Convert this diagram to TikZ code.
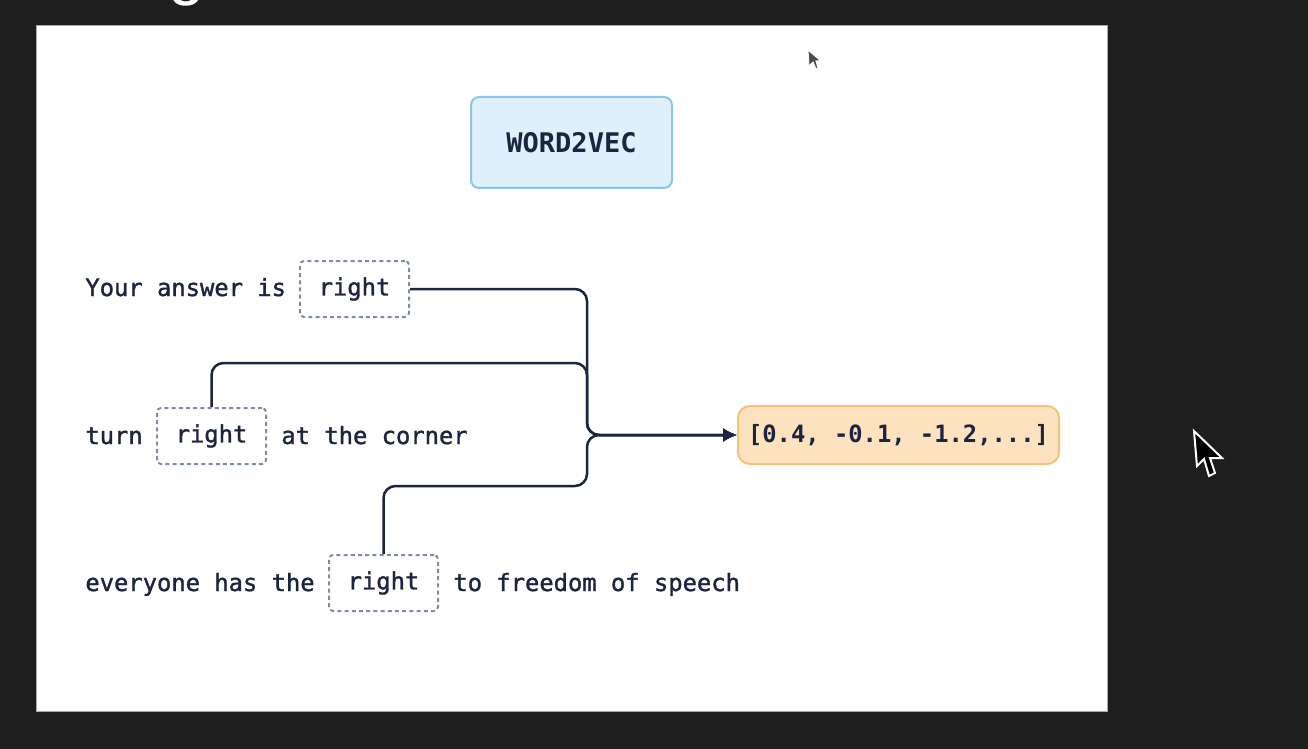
\documentclass[tikz,border=0pt]{standalone}
\usepackage{fontspec}
\setmonofont{DejaVu Sans Mono}
\setsansfont{Liberation Sans}
\newfontfamily\medmono{DejaVu Sans Mono}[FakeBold=1.4]
\usetikzlibrary{arrows.meta}

\definecolor{screenbg}{HTML}{1E1E1E}
\definecolor{ink}{HTML}{1C2540}
\definecolor{dashgray}{HTML}{7D8BA6}
\definecolor{modelfill}{HTML}{DDF0FC}
\definecolor{modeledge}{HTML}{8DC6EA}
\definecolor{vecfill}{HTML}{FDE2C0}
\definecolor{vecedge}{HTML}{F5C27C}

\newcommand{\monofont}{\medmono\fontsize{11.9}{14}\selectfont}

\begin{document}
\begin{tikzpicture}[x=0.5pt,y=-0.5pt,
  txt/.style={font=\monofont, text=ink, inner sep=0pt, anchor=base west},
  wordbox/.style={draw=dashgray, line width=1pt, dash pattern=on 2pt off 1.6pt,
    rounded corners=2pt, minimum width=54.5pt, minimum height=28pt,
    inner sep=0pt, font=\monofont, text=ink},
  model/.style={draw=modeledge, fill=modelfill, line width=1pt, rounded corners=4pt,
    minimum width=100.5pt, minimum height=45.5pt, inner sep=0pt,
    font=\ttfamily\bfseries\fontsize{13.5}{16}\selectfont, text=ink},
  vecbox/.style={draw=vecedge, fill=vecfill, line width=1pt, rounded corners=6pt,
    minimum width=160.5pt, minimum height=29pt, inner sep=0pt,
    font=\ttfamily\bfseries\fontsize{11.9}{14}\selectfont, text=ink},
  wire/.style={draw=ink, line width=1.25pt, rounded corners=6pt,
    -{Latex[length=7pt,width=7pt]}},
]
\useasboundingbox (0,0) rectangle (1308,749);
\fill[screenbg] (0,0) rectangle (1308,749);
% bit of the slide title, cut off at the top
\node[anchor=base west, inner sep=0pt, font=\sffamily\fontsize{33}{33}\selectfont,
  text=white] (title) at (168,-7) {g};
\filldraw[fill=white, draw=gray!70, line width=0.5pt] (36,26) rectangle (1107,711);

\node[model] (w2v) at (571.5,142.5) {WORD2VEC};

% sentences
\node[txt] (s1a) at (85,296) {Your answer is};
\node[wordbox] (r1) at (354.5,289) {right};

\node[txt] (s2a) at (85,444) {turn};
\node[wordbox] (r2) at (211.5,436) {right};
\node[txt] (s2b) at (281,444) {at the corner};

\node[txt] (s3a) at (85,591) {everyone has the};
\node[wordbox] (r3) at (383.5,583) {right};
\node[txt] (s3b) at (453,591) {to freedom of speech};

\node[vecbox] (vec) at (898.5,435) {[0.4, -0.1, -1.2,...]};

% wires
\coordinate (j) at (587,435);
\coordinate (t2) at (587,363);
\coordinate (t3) at (587,486);
\draw[wire] (r1.east) -| (j) -- (vec.west);
\draw[wire] (r2.north) |- (t2) -- (j) -- (vec.west);
\draw[wire] (r3.north) |- (t3) -- (j) -- (vec.west);

% mouse pointers
\filldraw[fill=black!70, draw=white, line width=0.5pt]
  (808,50) -- (809,66) -- (813,62) -- (816,69) -- (818,68) -- (816,61) -- (821,61) -- cycle;
\filldraw[fill=black, draw=white, line width=1pt]
  (1194,431) -- (1197,466) -- (1204,459) -- (1209,476) -- (1215,473) -- (1210,458) -- (1222,458) -- cycle;
\end{tikzpicture}
\end{document}
